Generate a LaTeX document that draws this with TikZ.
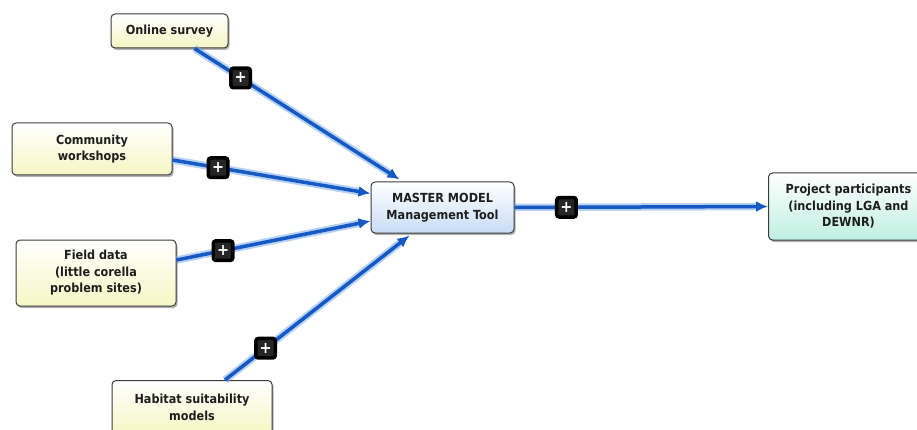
\documentclass[tikz,border=0pt]{standalone}
\usepackage{fontspec}
\setmainfont{DejaVu Sans Condensed}
\usetikzlibrary{arrows.meta,shadows}
\definecolor{lineblue}{RGB}{22,88,196}
\definecolor{glowblue}{RGB}{110,165,232}
\definecolor{paleyellow}{RGB}{246,246,196}
\definecolor{paleblue}{RGB}{200,220,245}
\definecolor{palemint}{RGB}{190,240,225}
\definecolor{edgegray}{RGB}{60,60,60}
\definecolor{txt}{RGB}{30,30,30}
\begin{document}
\begin{tikzpicture}[x=1pt,y=-1pt,
  box/.style={draw=edgegray, line width=1pt, rounded corners=4pt,
    top color=white, bottom color=paleyellow,
    drop shadow={shadow xshift=1.5pt, shadow yshift=-2pt, fill=black, opacity=0.3},
    font=\bfseries\fontsize{12.5}{16.5}\selectfont, text=txt, align=center, inner sep=0pt},
  bluebox/.style={box, bottom color=paleblue},
  mintbox/.style={box, bottom color=palemint},
  conn/.style={draw=lineblue, line width=3.5pt,
    -{Latex[length=12pt,width=11pt]},
    preaction={draw=glowblue, line width=7.5pt, opacity=0.5, -, shorten >=11pt}},
  plusmark/.style={fill=black!85, draw=black, rounded corners=2.5pt, minimum size=19.5pt,
    inner sep=0pt, text=white, font=\bfseries\fontsize{16}{16}\selectfont}
]
\useasboundingbox (0,0) rectangle (917,430);

% nodes
\node[box, minimum width=117pt, minimum height=34pt] (os) at (169.5,31) {Online survey};
\node[box, minimum width=160pt, minimum height=52pt] (cw) at (92,149) {Community\\workshops};
\node[box, minimum width=160pt, minimum height=66pt] (fd) at (96,273) {Field data\\(little corella\\problem sites)};
\node[box, minimum width=160pt, minimum height=54pt, anchor=north] (hs) at (192,380) {Habitat suitability\\models};
\node[bluebox, minimum width=143pt, minimum height=51pt] (mm) at (442.5,207.5) {MASTER MODEL\\Management Tool};
\node[mintbox, minimum width=160pt, minimum height=67pt, anchor=west] (pp) at (768,206.5) {Project participants\\(including LGA and\\DEWNR)};

% endpoints
\coordinate (osA) at ([xshift=25pt]os.south);
\coordinate (mmA) at ([xshift=29pt,yshift=2pt]mm.north west);
\coordinate (cwA) at ([yshift=-11pt]cw.east);
\coordinate (mmB) at ([yshift=14pt]mm.west);
\coordinate (fdA) at ([yshift=13pt]fd.east);
\coordinate (mmC) at ([yshift=-13.5pt]mm.west);
\coordinate (hsA) at ([xshift=33pt]hs.north);
\coordinate (mmD) at ([xshift=39pt,yshift=-2pt]mm.south west);

% connectors
\draw[conn] (osA) -- (mmA) node[plusmark, pos=0.225] (p1) {+};
\draw[conn] (cwA) -- (mmB) node[plusmark, pos=0.23] (p2) {+};
\draw[conn] (fdA) -- (mmC) node[plusmark, pos=0.24] (p3) {+};
\draw[conn] (hsA) -- (mmD) node[plusmark, pos=0.22] (p4) {+};
\draw[conn] (mm.east) -- (pp.west) node[plusmark, pos=0.205] (p5) {+};

\end{tikzpicture}
\end{document}
